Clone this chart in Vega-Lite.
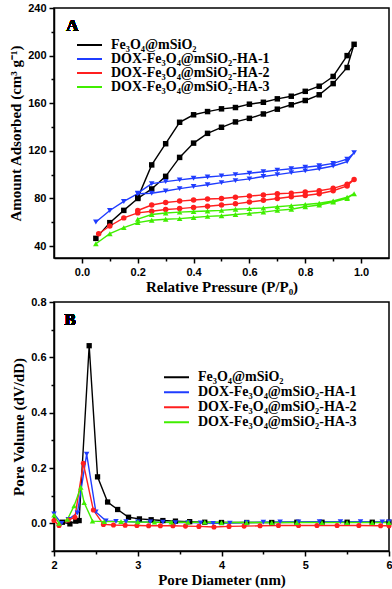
{
  "$schema": "https://vega.github.io/schema/vega-lite/v6.json",
  "background": "white",
  "padding": {"left": 7, "top": 1, "right": 4, "bottom": 2},
  "spacing": 0,
  "datasets": {
    "iso": [
      {"s":"F","i":0,"p":0.05,"v":46.5},{"s":"F","i":1,"p":0.1,"v":59.7},{"s":"F","i":2,"p":0.15,"v":70},{"s":"F","i":3,"p":0.2,"v":80},{"s":"F","i":4,"p":0.25,"v":88},{"s":"F","i":5,"p":0.3,"v":98.6},{"s":"F","i":6,"p":0.35,"v":114.5},{"s":"F","i":7,"p":0.4,"v":126.5},{"s":"F","i":8,"p":0.45,"v":134.7},{"s":"F","i":9,"p":0.5,"v":139.8},{"s":"F","i":10,"p":0.55,"v":144.3},{"s":"F","i":11,"p":0.6,"v":147.3},{"s":"F","i":12,"p":0.65,"v":151},{"s":"F","i":13,"p":0.7,"v":155},{"s":"F","i":14,"p":0.75,"v":158.7},{"s":"F","i":15,"p":0.8,"v":162.3},{"s":"F","i":16,"p":0.85,"v":167.1},{"s":"F","i":17,"p":0.9,"v":176.5},{"s":"F","i":18,"p":0.95,"v":190},{"s":"F","i":19,"p":0.975,"v":209.5},
      {"s":"F","i":20,"p":0.95,"v":200},{"s":"F","i":21,"p":0.9,"v":182.5},{"s":"F","i":22,"p":0.85,"v":174.3},{"s":"F","i":23,"p":0.8,"v":170},{"s":"F","i":24,"p":0.75,"v":165.9},{"s":"F","i":25,"p":0.7,"v":163.7},{"s":"F","i":26,"p":0.65,"v":160.8},{"s":"F","i":27,"p":0.6,"v":159.2},{"s":"F","i":28,"p":0.55,"v":156.4},{"s":"F","i":29,"p":0.5,"v":155.3},{"s":"F","i":30,"p":0.45,"v":153},{"s":"F","i":31,"p":0.4,"v":150.3},{"s":"F","i":32,"p":0.35,"v":144},{"s":"F","i":33,"p":0.3,"v":126},{"s":"F","i":34,"p":0.25,"v":108.2},{"s":"F","i":35,"p":0.2,"v":80.5},
      {"s":"H1","i":0,"p":0.05,"v":60.3},{"s":"H1","i":1,"p":0.1,"v":69.9},{"s":"H1","i":2,"p":0.15,"v":77.5},{"s":"H1","i":3,"p":0.2,"v":84},{"s":"H1","i":4,"p":0.25,"v":84.4},{"s":"H1","i":5,"p":0.3,"v":86.3},{"s":"H1","i":6,"p":0.35,"v":88.3},{"s":"H1","i":7,"p":0.4,"v":90},{"s":"H1","i":8,"p":0.45,"v":91.5},{"s":"H1","i":9,"p":0.5,"v":93.3},{"s":"H1","i":10,"p":0.55,"v":95},{"s":"H1","i":11,"p":0.6,"v":96.5},{"s":"H1","i":12,"p":0.65,"v":98.5},{"s":"H1","i":13,"p":0.7,"v":100},{"s":"H1","i":14,"p":0.75,"v":101.7},{"s":"H1","i":15,"p":0.8,"v":103.2},{"s":"H1","i":16,"p":0.85,"v":105},{"s":"H1","i":17,"p":0.9,"v":107.3},{"s":"H1","i":18,"p":0.95,"v":111},{"s":"H1","i":19,"p":0.975,"v":118.5},
      {"s":"H1","i":20,"p":0.95,"v":113},{"s":"H1","i":21,"p":0.9,"v":109.5},{"s":"H1","i":22,"p":0.85,"v":107.5},{"s":"H1","i":23,"p":0.8,"v":106.2},{"s":"H1","i":24,"p":0.75,"v":105},{"s":"H1","i":25,"p":0.7,"v":103.8},{"s":"H1","i":26,"p":0.65,"v":102.4},{"s":"H1","i":27,"p":0.6,"v":101.2},{"s":"H1","i":28,"p":0.55,"v":100},{"s":"H1","i":29,"p":0.5,"v":99},{"s":"H1","i":30,"p":0.45,"v":98},{"s":"H1","i":31,"p":0.4,"v":97},{"s":"H1","i":32,"p":0.35,"v":95.6},{"s":"H1","i":33,"p":0.3,"v":94.2},{"s":"H1","i":34,"p":0.25,"v":92.5},{"s":"H1","i":35,"p":0.2,"v":84.5},
      {"s":"H2","i":0,"p":0.06,"v":50.4},{"s":"H2","i":1,"p":0.1,"v":56.9},{"s":"H2","i":2,"p":0.15,"v":63.7},{"s":"H2","i":3,"p":0.2,"v":67.9},{"s":"H2","i":4,"p":0.25,"v":69.3},{"s":"H2","i":5,"p":0.3,"v":70.7},{"s":"H2","i":6,"p":0.35,"v":71.5},{"s":"H2","i":7,"p":0.4,"v":72.5},{"s":"H2","i":8,"p":0.45,"v":73.5},{"s":"H2","i":9,"p":0.5,"v":74.5},{"s":"H2","i":10,"p":0.55,"v":75.5},{"s":"H2","i":11,"p":0.6,"v":77},{"s":"H2","i":12,"p":0.65,"v":78.5},{"s":"H2","i":13,"p":0.7,"v":80},{"s":"H2","i":14,"p":0.75,"v":81.5},{"s":"H2","i":15,"p":0.8,"v":82.5},{"s":"H2","i":16,"p":0.85,"v":84},{"s":"H2","i":17,"p":0.9,"v":86.5},{"s":"H2","i":18,"p":0.95,"v":90.5},{"s":"H2","i":19,"p":0.975,"v":96},
      {"s":"H2","i":20,"p":0.95,"v":92},{"s":"H2","i":21,"p":0.9,"v":88.5},{"s":"H2","i":22,"p":0.85,"v":86.5},{"s":"H2","i":23,"p":0.8,"v":85.5},{"s":"H2","i":24,"p":0.75,"v":84.5},{"s":"H2","i":25,"p":0.7,"v":84},{"s":"H2","i":26,"p":0.65,"v":83},{"s":"H2","i":27,"p":0.6,"v":82},{"s":"H2","i":28,"p":0.55,"v":81},{"s":"H2","i":29,"p":0.5,"v":80},{"s":"H2","i":30,"p":0.45,"v":79.5},{"s":"H2","i":31,"p":0.4,"v":78.7},{"s":"H2","i":32,"p":0.35,"v":77.8},{"s":"H2","i":33,"p":0.3,"v":76.6},{"s":"H2","i":34,"p":0.25,"v":74.5},{"s":"H2","i":35,"p":0.2,"v":69.9},
      {"s":"H3","i":0,"p":0.05,"v":42},{"s":"H3","i":1,"p":0.1,"v":50.4},{"s":"H3","i":2,"p":0.15,"v":55.5},{"s":"H3","i":3,"p":0.2,"v":59.7},{"s":"H3","i":4,"p":0.25,"v":61.7},{"s":"H3","i":5,"p":0.3,"v":62.6},{"s":"H3","i":6,"p":0.35,"v":63.1},{"s":"H3","i":7,"p":0.4,"v":64},{"s":"H3","i":8,"p":0.45,"v":65},{"s":"H3","i":9,"p":0.5,"v":65.5},{"s":"H3","i":10,"p":0.55,"v":66.5},{"s":"H3","i":11,"p":0.6,"v":67.5},{"s":"H3","i":12,"p":0.65,"v":68.5},{"s":"H3","i":13,"p":0.7,"v":70},{"s":"H3","i":14,"p":0.75,"v":71},{"s":"H3","i":15,"p":0.8,"v":73},{"s":"H3","i":16,"p":0.85,"v":74.5},{"s":"H3","i":17,"p":0.9,"v":77},{"s":"H3","i":18,"p":0.95,"v":80},{"s":"H3","i":19,"p":0.975,"v":84},
      {"s":"H3","i":20,"p":0.95,"v":81},{"s":"H3","i":21,"p":0.9,"v":78},{"s":"H3","i":22,"p":0.85,"v":76},{"s":"H3","i":23,"p":0.8,"v":75},{"s":"H3","i":24,"p":0.75,"v":74},{"s":"H3","i":25,"p":0.7,"v":73},{"s":"H3","i":26,"p":0.65,"v":72},{"s":"H3","i":27,"p":0.6,"v":71.5},{"s":"H3","i":28,"p":0.55,"v":71},{"s":"H3","i":29,"p":0.5,"v":70},{"s":"H3","i":30,"p":0.45,"v":69.5},{"s":"H3","i":31,"p":0.4,"v":69},{"s":"H3","i":32,"p":0.35,"v":68.5},{"s":"H3","i":33,"p":0.3,"v":67.8},{"s":"H3","i":34,"p":0.25,"v":66.5},{"s":"H3","i":35,"p":0.2,"v":62.6}
    ],
    "psd": [
      {"s":"F","d":2.1,"v":0.004},{"s":"F","d":2.19,"v":-0.002},{"s":"F","d":2.26,"v":0.008},{"s":"F","d":2.3,"v":0.01},{"s":"F","d":2.42,"v":0.642},{"s":"F","d":2.52,"v":0.168},{"s":"F","d":2.64,"v":0.077},{"s":"F","d":2.76,"v":0.05},{"s":"F","d":2.89,"v":0.022},{"s":"F","d":3.02,"v":0.016},{"s":"F","d":3.16,"v":0.013},{"s":"F","d":3.3,"v":0.01},{"s":"F","d":3.45,"v":0.008},{"s":"F","d":3.62,"v":0.006},{"s":"F","d":3.8,"v":0.004},{"s":"F","d":4.0,"v":0.003},{"s":"F","d":4.3,"v":0.003},{"s":"F","d":4.6,"v":0.003},{"s":"F","d":4.9,"v":0.004},{"s":"F","d":5.2,"v":0.004},{"s":"F","d":5.5,"v":0.004},{"s":"F","d":5.8,"v":0.004},{"s":"F","d":6.0,"v":0.004},
      {"s":"H1","d":2.0,"v":0.034},{"s":"H1","d":2.09,"v":0.0},{"s":"H1","d":2.17,"v":0.014},{"s":"H1","d":2.28,"v":0.038},{"s":"H1","d":2.39,"v":0.25},{"s":"H1","d":2.5,"v":0.041},{"s":"H1","d":2.62,"v":0.009},{"s":"H1","d":2.74,"v":0.007},{"s":"H1","d":2.86,"v":0.006},{"s":"H1","d":3.0,"v":0.005},{"s":"H1","d":3.15,"v":0.005},{"s":"H1","d":3.3,"v":0.004},{"s":"H1","d":3.45,"v":0.003},{"s":"H1","d":3.6,"v":0.003},{"s":"H1","d":3.75,"v":0.002},{"s":"H1","d":3.9,"v":0.0},{"s":"H1","d":4.1,"v":0.001},{"s":"H1","d":4.3,"v":0.003},{"s":"H1","d":4.5,"v":0.004},{"s":"H1","d":4.7,"v":0.005},{"s":"H1","d":4.92,"v":0.005},{"s":"H1","d":5.17,"v":0.006},{"s":"H1","d":5.42,"v":0.006},{"s":"H1","d":5.66,"v":0.006},{"s":"H1","d":5.92,"v":0.005},{"s":"H1","d":6.0,"v":0.005},
      {"s":"H2","d":2.0,"v":0.01},{"s":"H2","d":2.06,"v":-0.008},{"s":"H2","d":2.17,"v":0.012},{"s":"H2","d":2.25,"v":0.022},{"s":"H2","d":2.35,"v":0.217},{"s":"H2","d":2.47,"v":0.048},{"s":"H2","d":2.59,"v":-0.004},{"s":"H2","d":2.71,"v":-0.006},{"s":"H2","d":2.85,"v":-0.007},{"s":"H2","d":2.99,"v":-0.008},{"s":"H2","d":3.13,"v":-0.009},{"s":"H2","d":3.27,"v":-0.009},{"s":"H2","d":3.42,"v":-0.009},{"s":"H2","d":3.57,"v":-0.01},{"s":"H2","d":3.73,"v":-0.011},{"s":"H2","d":3.91,"v":-0.013},{"s":"H2","d":4.09,"v":-0.011},{"s":"H2","d":4.27,"v":-0.01},{"s":"H2","d":4.46,"v":-0.009},{"s":"H2","d":4.68,"v":-0.008},{"s":"H2","d":4.92,"v":-0.008},{"s":"H2","d":5.14,"v":-0.008},{"s":"H2","d":5.38,"v":-0.008},{"s":"H2","d":5.64,"v":-0.008},{"s":"H2","d":5.9,"v":-0.009},{"s":"H2","d":6.0,"v":-0.009},
      {"s":"H3","d":2.0,"v":0.03},{"s":"H3","d":2.06,"v":0.0},{"s":"H3","d":2.16,"v":0.014},{"s":"H3","d":2.24,"v":0.063},{"s":"H3","d":2.32,"v":0.13},{"s":"H3","d":2.36,"v":0.075},{"s":"H3","d":2.46,"v":0.008},{"s":"H3","d":2.6,"v":0.006},{"s":"H3","d":2.8,"v":0.006},{"s":"H3","d":3.0,"v":0.005},{"s":"H3","d":3.2,"v":0.004},{"s":"H3","d":3.4,"v":0.004},{"s":"H3","d":3.6,"v":0.004},{"s":"H3","d":3.8,"v":0.004},{"s":"H3","d":4.0,"v":0.003},{"s":"H3","d":4.3,"v":0.003},{"s":"H3","d":4.6,"v":0.003},{"s":"H3","d":4.9,"v":0.003},{"s":"H3","d":5.2,"v":0.003},{"s":"H3","d":5.5,"v":0.003},{"s":"H3","d":5.8,"v":0.003},{"s":"H3","d":6.0,"v":0.003}
    ]
  },
  "vconcat": [
    {
      "width": 335,
      "height": 250,
      "data": {"name": "iso"},
      "encoding": {
        "x": {"field": "p", "type": "quantitative", "title": "Relative Pressure (P/P₀)",
          "scale": {"domain": [-0.1, 1.1], "nice": false, "zero": false},
          "axis": {"values": [0.0,0.1,0.2,0.3,0.4,0.5,0.6,0.7,0.8,0.9,1.0],
            "labelExpr": "round(datum.value*10) % 2 == 0 ? format(datum.value, '.1f') : ''",
            "tickSize": {"condition": {"test": "round(datum.value*10) % 2 != 0", "value": 3}, "value": 5},
            "titlePadding": 2}},
        "y": {"field": "v", "type": "quantitative", "title": "Amount Adsorbed (cm³ g⁻¹)",
          "scale": {"domain": [30, 240], "nice": false, "zero": false},
          "axis": {"values": [40,60,80,100,120,140,160,180,200,220,240],
            "labelExpr": "datum.value % 40 == 0 ? datum.label : ''",
            "tickSize": {"condition": {"test": "datum.value % 40 != 0", "value": 3}, "value": 5},
            "titlePadding": 4}}
      },
      "layer": [
        {"mark": {"type": "line", "strokeWidth": 1.4},
          "encoding": {
            "order": {"field": "i"},
            "color": {"field": "s", "type": "nominal",
              "scale": {"domain": ["F","H1","H2","H3"], "range": ["#000000","#1f3cff","#ff1f1f","#40ee00"]},
              "legend": {"title": null, "orient": "none", "legendX": 22, "legendY": 30,
                "symbolType": "stroke", "symbolSize": 625, "symbolStrokeWidth": 2, "clipHeight": 14, "rowPadding": 0, "padding": 0,
                "labelFont": "Liberation Serif", "labelFontWeight": "bold", "labelFontSize": 14, "labelColor": "black", "labelOffset": 8, "labelLimit": 0,
                "labelExpr": "{'F':'Fe₃O₄@mSiO₂','H1':'DOX-Fe₃O₄@mSiO₂-HA-1','H2':'DOX-Fe₃O₄@mSiO₂-HA-2','H3':'DOX-Fe₃O₄@mSiO₂-HA-3'}[datum.label]"}}
          }},
        {"transform": [{"filter": "datum.s == 'F'"}], "mark": {"type": "point", "shape": "square", "filled": true, "size": 30, "opacity": 1, "color": "#000000"}},
        {"transform": [{"filter": "datum.s == 'H1'"}], "mark": {"type": "point", "shape": "triangle-down", "filled": true, "size": 32, "opacity": 1, "color": "#1f3cff"}},
        {"transform": [{"filter": "datum.s == 'H2'"}], "mark": {"type": "point", "shape": "circle", "filled": true, "size": 30, "opacity": 1, "color": "#ff1f1f"}},
        {"transform": [{"filter": "datum.s == 'H3'"}], "mark": {"type": "point", "shape": "triangle-up", "filled": true, "size": 32, "opacity": 1, "color": "#40ee00"}},
        {"mark": {"type": "text", "text": "A", "font": "Liberation Serif", "fontWeight": "bold", "fontSize": 17, "align": "left", "baseline": "alphabetic", "color": "black"},
          "encoding": {"x": {"datum": -0.056}, "y": {"datum": 220.4}}}
      ]
    },
    {
      "width": 335,
      "height": 249,
      "data": {"name": "psd"},
      "encoding": {
        "x": {"field": "d", "type": "quantitative", "title": "Pore Diameter (nm)",
          "scale": {"domain": [2, 6], "nice": false, "zero": false},
          "axis": {"values": [2,2.5,3,3.5,4,4.5,5,5.5,6],
            "labelExpr": "datum.value % 1 == 0 ? format(datum.value, 'd') : ''",
            "tickSize": {"condition": {"test": "datum.value % 1 != 0", "value": 3}, "value": 5},
            "titlePadding": 2}},
        "y": {"field": "v", "type": "quantitative", "title": "Pore Volume (dV/dD)",
          "scale": {"domain": [-0.1, 0.8], "nice": false, "zero": false},
          "axis": {"values": [-0.1,0,0.1,0.2,0.3,0.4,0.5,0.6,0.7,0.8],
            "labelExpr": "round(datum.value*10) % 2 == 0 ? format(datum.value, '.1f') : ''",
            "tickSize": {"condition": {"test": "round(datum.value*10) % 2 != 0", "value": 3}, "value": 5},
            "titlePadding": 4}}
      },
      "layer": [
        {"mark": {"type": "line", "strokeWidth": 1.4},
          "encoding": {
            "color": {"field": "s", "type": "nominal",
              "scale": {"domain": ["F","H1","H2","H3"], "range": ["#000000","#1f3cff","#ff1f1f","#40ee00"]},
              "legend": {"title": null, "orient": "none", "legendX": 109, "legendY": 68,
                "symbolType": "stroke", "symbolSize": 625, "symbolStrokeWidth": 2, "clipHeight": 14.4, "rowPadding": 0, "padding": 0,
                "labelFont": "Liberation Serif", "labelFontWeight": "bold", "labelFontSize": 14, "labelColor": "black", "labelOffset": 8, "labelLimit": 0,
                "labelExpr": "{'F':'Fe₃O₄@mSiO₂','H1':'DOX-Fe₃O₄@mSiO₂-HA-1','H2':'DOX-Fe₃O₄@mSiO₂-HA-2','H3':'DOX-Fe₃O₄@mSiO₂-HA-3'}[datum.label]"}}
          }},
        {"transform": [{"filter": "datum.s == 'F'"}], "mark": {"type": "point", "shape": "square", "filled": true, "size": 28, "opacity": 1, "color": "#000000"}},
        {"transform": [{"filter": "datum.s == 'H1'"}], "mark": {"type": "point", "shape": "triangle-down", "filled": true, "size": 30, "opacity": 1, "color": "#1f3cff"}},
        {"transform": [{"filter": "datum.s == 'H2'"}], "mark": {"type": "point", "shape": "circle", "filled": true, "size": 26, "opacity": 1, "color": "#ff1f1f"}},
        {"transform": [{"filter": "datum.s == 'H3'"}], "mark": {"type": "point", "shape": "triangle-up", "filled": true, "size": 30, "opacity": 1, "color": "#40ee00"}},
        {"mark": {"type": "text", "text": "B", "font": "Liberation Serif", "fontWeight": "bold", "fontSize": 17, "align": "left", "baseline": "alphabetic", "color": "black"},
          "encoding": {"x": {"datum": 2.124}, "y": {"datum": 0.718}}}
      ]
    }
  ],
  "resolve": {"scale": {"color": "independent"}},
  "config": {
    "view": {"stroke": "black", "strokeWidth": 1.5},
    "axis": {"domainColor": "black", "domainWidth": 1.5, "tickColor": "black", "tickWidth": 1.5,
      "labelFont": "Liberation Sans", "labelFontWeight": "bold", "labelFontSize": 11, "labelColor": "black", "labelPadding": 3,
      "titleFont": "Liberation Serif", "titleFontWeight": "bold", "titleFontSize": 15, "titleColor": "black", "grid": false, "labelFlush": false}
  }
}
